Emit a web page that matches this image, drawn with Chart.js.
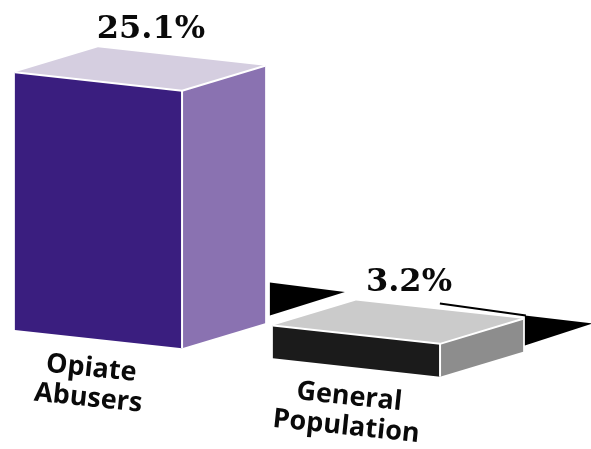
<!DOCTYPE html>
<html><head><meta charset="utf-8">
<script src="https://cdn.jsdelivr.net/npm/chart.js@4.4.1/dist/chart.umd.min.js"></script>
<style>html,body{margin:0;padding:0;background:#fff;}canvas{display:block}</style>
</head><body>
<canvas id="c" width="591" height="449"></canvas>
<script>
// ---- data ----
const categories = [['Opiate', 'Abusers'], ['General', 'Population']];
const values = [25.1, 3.2];
const valueSuffix = '%';
const yMax = 30;

// ---- styles ----
const frontColors = ['#3a1e7f', '#1b1b1b'];
const sideColors = ['#8a72b1', '#8d8d8d'];
const topColors = ['#d5cee0', '#cbcbcb'];
const SHEAR = 0.11;
const FRONT_FRAC = 0.668;
const DEPTH_X = 0.332, DEPTH_Y = -0.1;

function poly(ctx, pts, fill) {
  ctx.beginPath();
  ctx.moveTo(pts[0][0], pts[0][1]);
  for (let i = 1; i < pts.length; i++) ctx.lineTo(pts[i][0], pts[i][1]);
  ctx.closePath();
  ctx.fillStyle = fill;
  ctx.fill();
}
function seg(ctx, a, b) {
  ctx.beginPath(); ctx.moveTo(a[0], a[1]); ctx.lineTo(b[0], b[1]); ctx.stroke();
}

const box3d = {
  id: 'box3d',
  afterDatasetsDraw(chart) {
    const ctx = chart.ctx;
    const area = chart.chartArea;
    const meta = chart.getDatasetMeta(0);
    const off = x => (x - area.left) * SHEAR;
    const angle = Math.atan(SHEAR * 0.95);
    ctx.save();
    meta.data.forEach((bar, i) => {
      const W = bar.width;
      const L = bar.x - W / 2;
      const R = L + W * FRONT_FRAC;
      const dx = W * DEPTH_X, dy = W * DEPTH_Y;
      const top = bar.y, base = bar.base;
      const fTL = [L, top + off(L)], fTR = [R, top + off(R)];
      const fBR = [R, base + off(R)], fBL = [L, base + off(L)];
      const bTL = [fTL[0] + dx, fTL[1] + dy], bTR = [fTR[0] + dx, fTR[1] + dy];
      const bBR = [fBR[0] + dx, fBR[1] + dy];

      // dark floor wedges behind the last (short) bar
      if (i === meta.data.length - 1) {
        const x0 = fTL[0], y0 = fTL[1];
        poly(ctx, [[x0 - 3, y0 - 43], [x0 - 3, y0 - 10], [x0 + 72, y0 - 33.5]], '#000');
        poly(ctx, [[x0 + 252, y0 - 10], [x0 + 320, y0 - 2], [x0 + 252, y0 + 20]], '#000');
        ctx.strokeStyle = '#000';
        ctx.lineWidth = 2;
        seg(ctx, [x0 + 167, y0 - 22], [x0 + 253, y0 - 10]);
      }

      poly(ctx, [fTL, fTR, fBR, fBL], frontColors[i]);
      poly(ctx, [fTR, bTR, bBR, fBR], sideColors[i]);
      poly(ctx, [fTL, bTL, bTR, fTR], topColors[i]);
      ctx.strokeStyle = '#fff';
      ctx.lineWidth = 2;
      ctx.lineJoin = 'round';
      seg(ctx, fTL, fTR);
      seg(ctx, fTR, fBR);
      seg(ctx, fTR, bTR);

      // value label
      const cx = (fTL[0] + fTR[0] + bTL[0] + bTR[0]) / 4;
      const cy = (fTL[1] + fTR[1] + bTL[1] + bTR[1]) / 4;
      ctx.fillStyle = '#0a0a0a';
      ctx.font = 'bold 32px "DejaVu Serif"';
      ctx.textAlign = 'center';
      ctx.textBaseline = 'alphabetic';
      ctx.fillText(values[i] + valueSuffix, cx + 11, cy - 31);

      // category label, slanted along the floor
      const lines = chart.data.labels[i];
      const lx = (L + R) / 2 - 8;
      const ly = base + off(lx) + 38;
      ctx.save();
      ctx.translate(lx, ly);
      ctx.rotate(angle);
      ctx.font = 'bold 27px "Open Sans"';
      ctx.fillStyle = '#0a0a0a';
      (Array.isArray(lines) ? lines : [lines]).forEach((t, j) => ctx.fillText(t, 0, j * 30));
      ctx.restore();
    });
    ctx.restore();
  }
};

new Chart(document.getElementById('c'), {
  type: 'bar',
  data: {
    labels: categories,
    datasets: [{
      data: values,
      backgroundColor: 'rgba(0,0,0,0)',
      borderWidth: 0,
      barPercentage: 0.97,
      categoryPercentage: 1
    }]
  },
  options: {
    responsive: false,
    animation: false,
    events: [],
    layout: { padding: { left: 11, right: 64, top: 21.6, bottom: 119.5 } },
    plugins: { legend: { display: false }, tooltip: { enabled: false } },
    scales: {
      x: { display: false },
      y: { display: false, min: 0, max: yMax }
    }
  },
  plugins: [box3d]
});
</script>
</body></html>
